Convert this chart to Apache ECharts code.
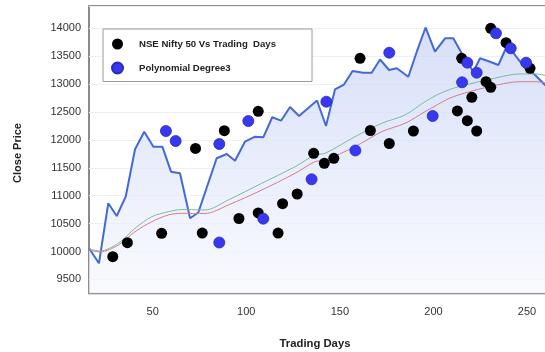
<!DOCTYPE html>
<html>
<head>
<meta charset="utf-8">
<script src="https://cdn.jsdelivr.net/npm/echarts@6/dist/echarts.min.js"></script>
<style>
  html, body { margin: 0; padding: 0; background: #ffffff; }
  #chart { width: 545px; height: 352px; }
</style>
</head>
<body>
<div id="chart"></div>
<script>
// Daily close of the NSE Nifty 50 (trading day -> close)
const closeDays = [16, 21.3, 26.3, 30.8, 35.6, 40.6, 45.5, 50.4, 55.2, 59.8, 64.6, 70.0, 74.4, 84.2, 89.6, 94.0,
  99.3, 104.7, 109.1, 113.9, 118.6, 123.4, 128.2, 137.8, 142.6, 147.4, 152.2, 156.8, 162.5, 167.0, 171.5,
  176.3, 180.4, 186.6, 191.1, 195.8, 200.8, 206.2, 210.6, 215.1, 221.3, 224.9, 230.2, 234.7, 239.5, 246.3,
  254.3, 259.6, 262];
const closeValues = [10058, 9789, 10865, 10637, 10983, 11832, 12148, 11879, 11879, 11431, 11402, 10596, 10700,
  11671, 11748, 11628, 11968, 12058, 12047, 12406, 12345, 12590, 12429, 12707, 12250, 12904, 12993, 13235,
  13205, 13205, 13441, 13253, 13284, 13133, 13581, 14015, 13581, 13821, 13821, 13553, 13223, 13463, 13402,
  13343, 13701, 13402, 13164, 12985, 12930];

// Two smoothed trend curves
const trendDays = [16, 21.9, 31.7, 40.6, 49.5, 58.4, 65.5, 78.0, 90.4, 108.3, 126.1, 136.7, 142.1, 158.1,
  172.4, 184.8, 195.5, 201.8, 210.6, 228.5, 246.3, 254.3, 262];
const trendGreen = [10046, 10010, 10148, 10417, 10624, 10714, 10753, 10745, 10924, 11223, 11520, 11730, 11760,
  12058, 12298, 12447, 12685, 12805, 12925, 13074, 13182, 13182, 13140];
const trendRed = [10028, 9993, 10117, 10356, 10535, 10655, 10685, 10682, 10834, 11103, 11402, 11610, 11640,
  11879, 12148, 12298, 12506, 12626, 12775, 12943, 13044, 13044, 13005];

// Sampled observations: NSE Nifty 50 vs trading days
const niftyDays = [28.7, 36.5, 54.8, 72.9, 76.5, 88.3, 96.1, 106.4, 106.4, 117.0, 119.4, 127.2, 136.0, 141.7,
  146.8, 160.8, 166.3, 176.4, 189.3, 212.8, 215.1, 218.1, 220.5, 223.1, 228.1, 230.6, 230.6, 238.8, 251.6];
const niftyValues = [9908, 10159, 10327, 11847, 10332, 12166, 10592, 12513, 10691, 10332, 10857, 11031, 11761,
  11581, 11671, 13463, 12169, 11936, 12160, 12519, 13463, 12345, 12764, 12160, 13044, 14000, 12943, 13743, 13284];

// Degree-3 polynomial predictions
const polyDays = [57.1, 62.3, 85.6, 85.6, 101.1, 109.1, 134.9, 142.8, 158.3, 176.4, 199.6, 215.3, 218.1,
  223.1, 233.4, 241.3, 249.5];
const polyValues = [12160, 11981, 11927, 10162, 12339, 10589, 11295, 12685, 11811, 13563, 12429, 13033, 13384,
  13205, 13911, 13642, 13384];

// Axis ticks that carry labels
const xTickLabels = [50, 100, 150, 200, 250];
const yTickLabels = [9500, 10000, 10500, 11000, 11500, 12000, 12500, 13000, 13500, 14000];

const zip = (xs, ys) => xs.map((x, i) => [x, ys[i]]);
const FONT = 'Liberation Sans, Arial, sans-serif';

const chart = echarts.init(document.getElementById('chart'), null, { renderer: 'canvas' });

chart.setOption({
  animation: false,
  backgroundColor: '#ffffff',
  grid: {
    left: 89, top: 6, width: 460.5, height: 287.4,
    containLabel: false,
    outerBoundsMode: 'none',
    show: true, backgroundColor: '#ffffff',
    borderColor: '#666666', borderWidth: 1.5
  },
  legend: {
    left: 103, top: 29,
    orient: 'vertical',
    padding: [9, 36, 7, 8],
    itemGap: 11.5,
    itemWidth: 11, itemHeight: 11,
    backgroundColor: '#ffffff',
    borderColor: '#9a9a9a', borderWidth: 1,
    textStyle: {
      fontFamily: FONT, fontSize: 9.6, fontWeight: 'bold', color: '#222222',
      padding: [0, 0, 0, 11], lineHeight: 12
    },
    data: [
      { name: 'NSE Nifty 50 Vs Trading  Days', icon: 'circle' },
      { name: 'Polynomial Degree3', icon: 'circle' }
    ]
  },
  xAxis: {
    type: 'value',
    min: 16, max: 262, interval: 2,
    axisLine: { show: false },
    axisTick: { show: false },
    splitLine: { show: false },
    axisLabel: {
      margin: 13,
      fontFamily: FONT, fontSize: 11, color: '#333333',
      formatter: v => (xTickLabels.some(t => Math.abs(t - v) < 1e-6) ? String(Math.round(v)) : '')
    }
  },
  yAxis: {
    type: 'value',
    min: 9250, max: 14400, interval: 250,
    axisLine: { show: false },
    axisTick: { show: false },
    splitLine: {
      show: true,
      lineStyle: { color: ['rgba(0,0,0,0)', '#eef0f5'], width: 1 }
    },
    axisLabel: {
      margin: 8,
      fontFamily: FONT, fontSize: 11, color: '#333333',
      formatter: v => (yTickLabels.some(t => Math.abs(t - v) < 1e-6) ? String(Math.round(v)) : '')
    }
  },
  graphic: [
    {
      type: 'text', x: 18, y: 153, rotation: Math.PI / 2,
      style: {
        text: 'Close Price', fill: '#222222',
        font: 'bold 11px ' + FONT, align: 'center', verticalAlign: 'middle'
      }
    },
    {
      type: 'text', x: 315, y: 344,
      style: {
        text: 'Trading Days', fill: '#222222',
        font: 'bold 11.3px ' + FONT, align: 'center', verticalAlign: 'middle'
      }
    }
  ],
  series: [
    {
      name: 'Close',
      type: 'line',
      data: zip(closeDays, closeValues),
      showSymbol: false,
      lineStyle: { color: '#4469d6', width: 2 },
      areaStyle: {
        origin: 'start',
        color: new echarts.graphic.LinearGradient(0, 0, 0, 1, [
          { offset: 0, color: '#c6d2f6' },
          { offset: 1, color: '#f8f9fe' }
        ])
      },
      z: 1
    },
    {
      name: 'Trend A',
      type: 'line',
      data: zip(trendDays, trendGreen),
      smooth: 0.3,
      showSymbol: false,
      lineStyle: { color: '#7dbb9a', width: 1 },
      z: 2
    },
    {
      name: 'Trend B',
      type: 'line',
      data: zip(trendDays, trendRed),
      smooth: 0.3,
      showSymbol: false,
      lineStyle: { color: '#d47d8c', width: 1 },
      z: 2
    },
    {
      name: 'NSE Nifty 50 Vs Trading  Days',
      type: 'scatter',
      data: zip(niftyDays, niftyValues),
      symbol: 'circle',
      symbolSize: 11,
      itemStyle: { color: '#000000', opacity: 1 },
      z: 3
    },
    {
      name: 'Polynomial Degree3',
      type: 'scatter',
      data: zip(polyDays, polyValues),
      symbol: 'circle',
      symbolSize: 11,
      itemStyle: { color: '#3838f0', borderColor: '#2a2ab8', borderWidth: 0.8, opacity: 1 },
      z: 4
    }
  ]
});
</script>
</body>
</html>
